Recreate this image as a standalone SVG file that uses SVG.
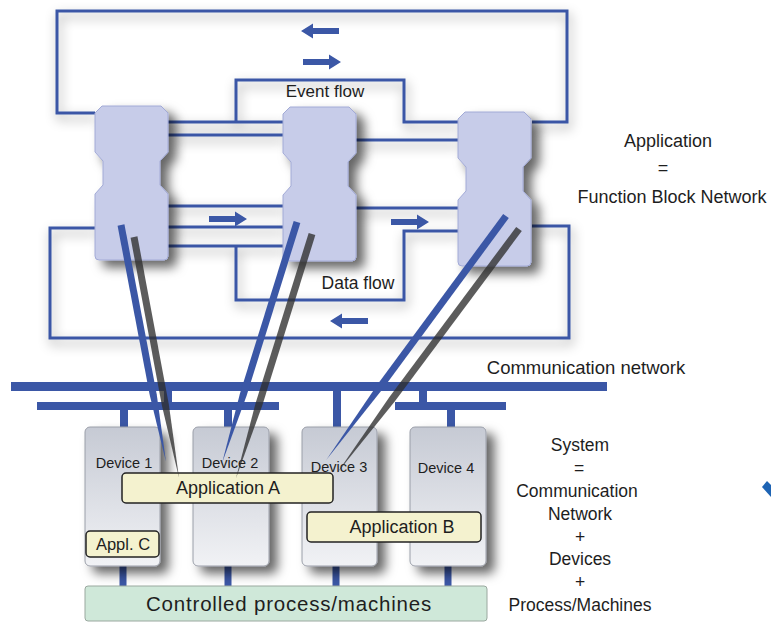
<svg xmlns="http://www.w3.org/2000/svg" xmlns:xlink="http://www.w3.org/1999/xlink" width="771" height="623" viewBox="0 0 771 623">
<defs>
  <style>
    .wire{fill:none;stroke:#3b57a6;stroke-width:3}
    .bus{fill:#3b57a6}
    .fb{fill:#c7cce9;stroke:#a2aad6;stroke-width:1}
    .dev{fill:url(#devg);stroke:#9a9ea8;stroke-width:1}
    .app{fill:#f4f2cf;stroke:#222;stroke-width:1.5}
    .proc{fill:#cfe8d9;stroke:#9aa89f;stroke-width:1}
    .t{font-family:"Liberation Sans",Arial,sans-serif;fill:#1e1e1e;text-anchor:middle}
    .blue{fill:#3b57a6}
    .gray{fill:#2e2e2e;opacity:0.78}
    .arrow{fill:#3b57a6}
  </style>
  <linearGradient id="devg" x1="0" y1="0" x2="0" y2="1">
    <stop offset="0" stop-color="#c6cad4"/>
    <stop offset="1" stop-color="#f1f2f5"/>
  </linearGradient>
  <filter id="sh" x="-30%" y="-20%" width="170%" height="150%">
    <feDropShadow dx="8" dy="7" stdDeviation="5.5" flood-color="#000" flood-opacity="0.6"/>
  </filter>
  <filter id="wsh" x="-10%" y="-10%" width="130%" height="130%">
    <feDropShadow dx="2" dy="5" stdDeviation="6" flood-color="#000" flood-opacity="0.4"/>
  </filter>
  <path id="fbshape" d="M7,0 H66 L73,7 V46 L65,55 V79 L73,88 V150 Q73,154 69,154 H4 Q0,154 0,150 V88 L8,79 V55 L0,46 V7 Z"/>
  <path id="arr" d="M0,-3 H26 V-7.5 L38,0 L26,7.5 V3 H0 Z"/>
</defs>

<rect width="771" height="623" fill="#fff"/>

<!-- connectors -->
<g id="connectors">
  <g filter="url(#wsh)">
    <path class="wire" d="M95,113 H57 V11 H567 V122 H532"/>
    <path class="wire" d="M236,122 V80 H404 V122 H458"/>
    <path class="wire" d="M168,122 H283"/>
    <path class="wire" d="M168,135 H283"/>
    <path class="wire" d="M356,140 H458"/>
    <path class="wire" d="M168,206 H283"/>
    <path class="wire" d="M168,227 H283"/>
    <path class="wire" d="M168,246 H283"/>
    <path class="wire" d="M356,208 H458"/>
    <path class="wire" d="M236,246 V300 H404 V231 H458"/>
    <path class="wire" d="M95,228 H50 V338 H569 V226 H532"/>
  </g>
  <use href="#arr" class="arrow" transform="translate(339,31) scale(-1,1)"/>
  <use href="#arr" class="arrow" transform="translate(303,62)"/>
  <use href="#arr" class="arrow" transform="translate(209,219)"/>
  <use href="#arr" class="arrow" transform="translate(391,222)"/>
  <use href="#arr" class="arrow" transform="translate(368,321) scale(-1,1)"/>
</g>

<!-- function blocks -->
<g id="fb1" filter="url(#sh)"><use href="#fbshape" class="fb" x="95" y="106"/></g>
<g id="fb2" filter="url(#sh)"><use href="#fbshape" class="fb" x="283" y="107"/></g>
<g id="fb3" filter="url(#sh)"><use href="#fbshape" class="fb" x="458" y="112"/></g>

<text class="t" x="325" y="97" font-size="17">Event flow</text>
<text class="t" x="358" y="289" font-size="17.5">Data flow</text>

<!-- communication network -->
<g id="network">
  <rect class="bus" x="11" y="382" width="596" height="9"/>
  <rect class="bus" x="37" y="402" width="242" height="8"/>
  <rect class="bus" x="395" y="402" width="111" height="8"/>
  <rect class="bus" x="164" y="390" width="8" height="13"/>
  <rect class="bus" x="419" y="390" width="8" height="13"/>
  <rect class="bus" x="120" y="409" width="8" height="19"/>
  <rect class="bus" x="224" y="409" width="8" height="19"/>
  <rect class="bus" x="333" y="390" width="8" height="38"/>
  <rect class="bus" x="447" y="409" width="8" height="19"/>
</g>
<text class="t" x="586" y="374" font-size="18.5">Communication network</text>

<!-- process stubs -->
<g id="stubs">
  <rect class="bus" x="119.5" y="565" width="7" height="22"/>
  <rect class="bus" x="224.5" y="565" width="7" height="22"/>
  <rect class="bus" x="332.5" y="565" width="7" height="22"/>
  <rect class="bus" x="444.5" y="565" width="7" height="22"/>
</g>

<!-- devices -->
<g id="device1" filter="url(#sh)"><rect class="dev" x="85" y="427" width="75" height="139" rx="5"/></g>
<g id="device2" filter="url(#sh)"><rect class="dev" x="193" y="427" width="76" height="139" rx="5"/></g>
<g id="device3" filter="url(#sh)"><rect class="dev" x="302" y="427" width="75" height="139" rx="5"/></g>
<g id="device4" filter="url(#sh)"><rect class="dev" x="410" y="427" width="76" height="139" rx="5"/></g>
<text class="t" x="124" y="468" font-size="14.5">Device 1</text>
<text class="t" x="230" y="468" font-size="14.5">Device 2</text>
<text class="t" x="339" y="472" font-size="14.5">Device 3</text>
<text class="t" x="446" y="473" font-size="14.5">Device 4</text>

<!-- applications -->
<g id="appA"><rect class="app" x="122" y="473" width="211" height="30" rx="4"/><text class="t" x="228" y="494" font-size="18">Application A</text></g>
<g id="appB"><rect class="app" x="307" y="512" width="174" height="30" rx="4"/><text class="t" x="402" y="533" font-size="18">Application B</text></g>
<g id="appC"><rect class="app" x="86" y="531" width="73" height="26" rx="4"/><text class="t" x="123" y="550" font-size="16.5">Appl. C</text></g>

<!-- controlled process -->
<g id="process"><rect class="proc" x="85" y="586" width="402" height="35" rx="3"/><text class="t" x="289" y="611" font-size="20.5" letter-spacing="0.8">Controlled process/machines</text></g>

<!-- mapping lines -->
<g id="mapping">
  <polygon class="blue" points="-3.5,0 3.5,0 3.5,173 0,241 -3.5,173" transform="translate(121,225) rotate(-10.75)"/>
  <polygon class="gray" points="-3.5,0 3.5,0 3.5,171 0,245 -3.5,171" transform="translate(134,237) rotate(-10.58)"/>
  <polygon class="blue" points="-3.5,0 3.5,0 3.5,181 0,252 -3.5,181" transform="translate(297,222) rotate(17.28)"/>
  <polygon class="gray" points="-3.5,0 3.5,0 3.5,179 0,256 -3.5,179" transform="translate(312,234) rotate(17.3)"/>
  <polygon class="blue" points="-3.5,0 3.5,0 3.5,210 0,303 -3.5,210" transform="translate(506,216) rotate(36.4)"/>
  <polygon class="gray" points="-3.5,0 3.5,0 3.5,213 0,304 -3.5,213" transform="translate(519,229) rotate(36.7)"/>
</g>

<!-- right side texts -->
<g id="appdef">
  <text class="t" x="668" y="147" font-size="18">Application</text>
  <text class="t" x="663" y="174" font-size="18">=</text>
  <text class="t" x="672" y="203" font-size="18">Function Block Network</text>
</g>
<g id="sysdef">
  <text class="t" x="580" y="451" font-size="17.5">System</text>
  <text class="t" x="579" y="474" font-size="17.5">=</text>
  <text class="t" x="577" y="497" font-size="17.5">Communication</text>
  <text class="t" x="580" y="520" font-size="17.5">Network</text>
  <text class="t" x="580" y="543" font-size="17.5">+</text>
  <text class="t" x="580" y="565" font-size="17.5">Devices</text>
  <text class="t" x="580" y="588" font-size="17.5">+</text>
  <text class="t" x="580" y="611" font-size="17.5">Process/Machines</text>
</g>

<polygon points="762,487 767,481 771,485 771,497" fill="#1e64b4"/>
</svg>
